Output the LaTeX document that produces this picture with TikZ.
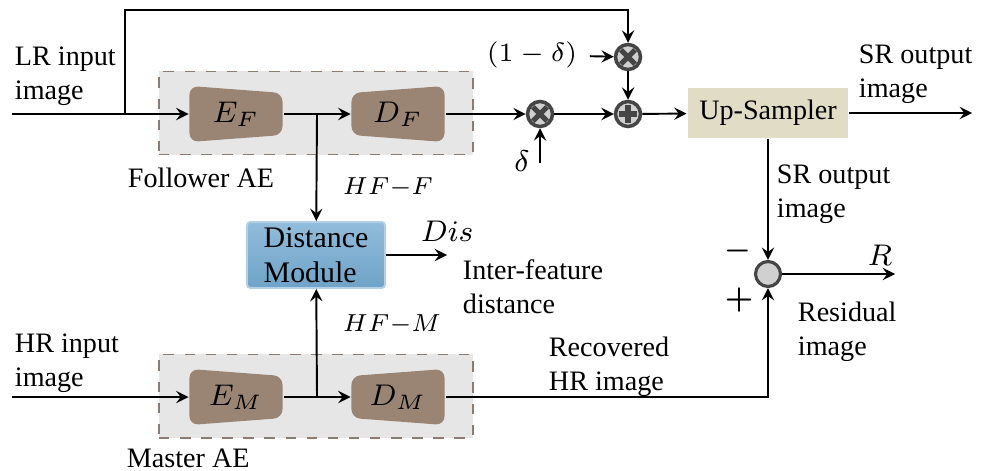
\RequirePackage{fix-cm}
\documentclass[tikz,border=0pt]{standalone}
\usepackage{amsmath}
\usepackage{fontspec}
\setmainfont{Liberation Serif}
\usepackage{tikz}
\usetikzlibrary{positioning}

\definecolor{aegray}{HTML}{E6E6E6}
\definecolor{aeedge}{HTML}{8C7B70}
\definecolor{aebrown}{HTML}{9A8574}
\definecolor{upbeige}{HTML}{E0DCC6}
\definecolor{dmtop}{HTML}{92BCDB}
\definecolor{dmbot}{HTML}{6FA3C7}
\definecolor{opgray}{HTML}{D0D0D0}
\definecolor{opedge}{HTML}{454545}

\begin{document}
\begin{tikzpicture}[x=0.01cm,y=-0.01cm,>=stealth,line width=0.55pt,
    every node/.style={font=\fontsize{8}{9.6}\selectfont},
    lab/.style={anchor=north west,inner sep=0pt,align=left},
    big/.style={font=\fontsize{8.5}{10}\selectfont},
    feat/.style={font=\fontsize{7}{8}\selectfont,anchor=west,inner sep=0pt},
    aebox/.style={draw=aeedge,dashed,fill=aegray,minimum width=3.14cm,minimum height=0.83cm},
    coder/.style={big,minimum width=0.93cm,minimum height=0.56cm,inner sep=0pt},
    enc/.style={coder,path picture={\fill[aebrown,rounded corners=2.5pt] (path picture bounding box.north west) -- ([yshift=-0.07cm]path picture bounding box.north east) -- ([yshift=0.07cm]path picture bounding box.south east) -- (path picture bounding box.south west) -- cycle;}},
    dec/.style={coder,path picture={\fill[aebrown,rounded corners=2.5pt] ([yshift=-0.07cm]path picture bounding box.north west) -- (path picture bounding box.north east) -- (path picture bounding box.south east) -- ([yshift=0.07cm]path picture bounding box.south west) -- cycle;}},
    opnode/.style={circle,draw=opedge,line width=1pt,fill=opgray,minimum size=0.25cm,inner sep=0pt},
    opmul/.style={opnode,path picture={\draw[line width=1.5pt] ([shift={(-2pt,-2pt)}]path picture bounding box.center) -- ([shift={(2pt,2pt)}]path picture bounding box.center) ([shift={(-2pt,2pt)}]path picture bounding box.center) -- ([shift={(2pt,-2pt)}]path picture bounding box.center);}},
    opadd/.style={opnode,path picture={\draw[line width=1.5pt] ([xshift=-2.6pt]path picture bounding box.center) -- ([xshift=2.6pt]path picture bounding box.center) ([yshift=-2.6pt]path picture bounding box.center) -- ([yshift=2.6pt]path picture bounding box.center);}},
    upbox/.style={fill=upbeige,minimum width=1.42cm,minimum height=0.5cm},
    distbox/.style={big,rounded corners=1pt,draw=dmtop!70!white,top color=dmtop,bottom color=dmbot,minimum width=1.38cm,minimum height=0.66cm,align=left,inner sep=1pt}]
    \useasboundingbox (0,0) rectangle (983,470);

    % autoencoder groups
    \node[aebox] (FAE) at (316,113) {};
    \node[aebox] (MAE) at (316,396) {};
    \node[enc] (EF) at (236,114) {$E_F$};
    \node[dec] (DF) at (398,114) {$D_F$};
    \node[enc] (EM) at (236,397) {$E_M$};
    \node[dec] (DM) at (398,397) {$D_M$};

    \node[distbox] (DIS) at (316,255) {Distance\\Module};

    % fusion
    \node[opmul] (M1) at (628,57) {};
    \node[opmul] (M2) at (540,114) {};
    \node[opadd] (A1) at (628,114) {};
    \node[upbox] (UP) at (768,113) {Up-Sampler};
    \node[opnode,line width=0.9pt] (RES) at (768,274) {};

    \node[font=\fontsize{7.5}{8}\selectfont] (OMD) at (532,55) {$(1-\delta)$};
    \node[big] (DEL) at (522,161) {$\delta$};

    \coordinate (LRin) at (12,114);
    \coordinate (HRin) at (12,397);
    \coordinate (Tap) at (125,114);
    \coordinate (Top) at (628,10);
    \coordinate (FB) at (317,114);
    \coordinate (MB) at (317,397);
    \coordinate (Din) at (540,163);
    \coordinate (SRout) at (972,113);
    \coordinate (Rout) at (895,274);
    \coordinate (DisOut) at (447,255);

    % connectors
    \draw[->] (LRin) -- (EF);
    \draw[->] (Tap) |- (Top) -- (M1);
    \draw (EF) -- (FB);
    \draw[->] (FB) -- (DF);
    \draw[->] (FB) -- (DIS);
    \draw[->] (DF) -- (M2);
    \draw[->] (OMD) -- (M1);
    \draw[->] (Din) -- (M2);
    \draw[->] (M1) -- (A1);
    \draw[->] (M2) -- (A1);
    \draw[->] (A1) -- (UP);
    \draw[->] (UP) -- (SRout);
    \draw[->] (UP) -- (RES);
    \draw[->] (RES) -- (Rout);
    \draw[->] (HRin) -- (EM);
    \draw (EM) -- (MB);
    \draw[->] (MB) -- (DM);
    \draw[->] (MB) -- (DIS);
    \draw[->] (DM) -| (RES);
    \draw[->] (DIS) -- (DisOut);

    % labels
    \node[lab] (LRlab) at (14,46) {LR input\\image};
    \node[lab] (HRlab) at (14,333) {HR input\\image};
    \node[lab] (SRlab) at (858,44) {SR output\\image};
    \node[lab] (SRlab2) at (776,164) {SR output\\image};
    \node[lab] (FAElab) at (127,167) {Follower AE};
    \node[lab] (MAElab) at (126,448) {Master AE};
    \node[feat] (HFF) at (342,188) {$HF{-}F$};
    \node[feat] (HFM) at (342,325) {$HF{-}M$};
    \node[big,anchor=west,inner sep=0pt] (DISlab) at (420,231) {$Dis$};
    \node[lab] (IFlab) at (462,259) {Inter-feature\\distance};
    \node[lab] (RHRlab) at (548,336) {Recovered\\HR image};
    \node[lab] (RESlab) at (797,301) {Residual\\image};
    \node[big] (Rlab) at (880,255) {$R$};
    \node[big] (MIN) at (738,251) {$\boldsymbol{-}$};
    \node[big] (PLS) at (739,300) {$\boldsymbol{+}$};
\end{tikzpicture}
\end{document}
